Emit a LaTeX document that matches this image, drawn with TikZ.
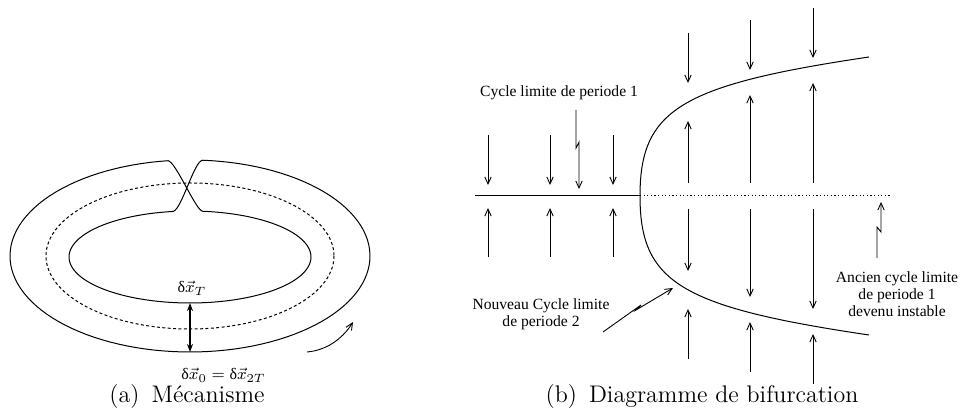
\documentclass[tikz,border=0pt]{standalone}
\usepackage{amsmath}
\usepackage{fontspec}
\newfontfamily\timesfont{Liberation Serif}
\usetikzlibrary{arrows.meta}
\newcommand{\petitdelta}{\mbox{\timesfont δ}}

\begin{document}
\begin{tikzpicture}[
      x=0.5pt, y=-0.5pt,
      >={Straight Barb[length=3.5pt,width=3.2pt]},
      trait/.style={line width=0.5pt},
      fleche/.style={->, line width=0.45pt},
      etiquette/.style={font=\timesfont\fontsize{7.8}{8.4}\selectfont, align=center, inner sep=0pt},
      legende/.style={font=\fontsize{12}{14}\selectfont, inner sep=0pt, anchor=base}
    ]
    \useasboundingbox (0,0) rectangle (972,415);

    % (a) Mecanisme : double boucle
    \draw[trait] plot[domain=-97:-446, samples=120] ({190+180*cos(\x)}, {256+96*sin(\x)})
      .. controls (194,161) and (182,209) .. (173.2,211.4)
      -- plot[domain=-98:-444, samples=120] ({190+121*cos(\x)}, {257+46*sin(\x)})
      .. controls (196,211) and (176,162) .. (168.1,160.7);
    \draw[trait, dash pattern=on 1.5pt off 1.2pt] (190,256) ellipse [x radius=144, y radius=73];

    \coordinate (int) at (190,303);
    \coordinate (ext) at (190,352);
    \draw[{Stealth[length=4pt,width=3pt]}-{Stealth[length=4pt,width=3pt]}, line width=1pt] (int) -- (ext);
    \draw[fleche] (307,352) .. controls (330,350) and (345,335) .. (353,322);

    \node[anchor=base, inner sep=0pt, font=\fontsize{8}{9.6}\selectfont] (dT) at (192,293) {$\petitdelta\vec{x}_T$};
    \node[anchor=base west, inner sep=0pt, font=\fontsize{8}{9.6}\selectfont] (d0) at (181,380) {$\petitdelta\vec{x}_0 = \petitdelta\vec{x}_{2T}$};
    \node[legende] (capa) at (187,403) {(a)\enspace Mécanisme};

    % (b) Diagramme de bifurcation
    \coordinate (L) at (475,196);
    \coordinate (O) at (640,196);
    \coordinate (R) at (890,196);
    \draw[trait] (L) -- (O);
    \draw[trait, dash pattern=on 0.6pt off 1.2pt] (O) -- (R);
    \draw[trait] (O) .. controls (640,110) and (680,85) .. (869,57);
    \draw[trait] (O) .. controls (640,282) and (680,307) .. (869,335);

    \foreach \x in {488,550,613} {
      \draw[fleche] (\x,135) -- (\x,185);
      \draw[fleche] (\x,257) -- (\x,208);
    }
    \foreach \x/\a/\b/\c in {688/33/83/121, 750/20/70/95, 813/8/58/83} {
      \draw[fleche] (\x,\a) -- (\x,\b);
      \draw[fleche] (\x,183) -- (\x,\c);
      \draw[fleche] (\x,209) -- (\x,{392-\c});
      \draw[fleche] (\x,{392-\a}) -- (\x,{392-\b});
    }

    % Etiquettes et fleches en zigzag
    \node[etiquette] (cycle1) at (559,93) {Cycle limite de periode 1};
    \draw[fleche] (576,110) -- (576,148) -- (579,142) -- (579,189);

    \node[etiquette] (nouveau) at (541,314) {Nouveau Cycle limite\\de periode 2};
    \draw[fleche] (603,332) -- (641,305) -- (636,310) -- (673,288);

    \node[etiquette] (ancien) at (897,294) {Ancien cycle limite\\de periode 1\\devenu instable};
    \draw[fleche] (877,258) -- (877,227) -- (881,232) -- (881,202);

    \node[legende] (capb) at (702,403) {(b)\enspace Diagramme de bifurcation};
  \end{tikzpicture}
\end{document}
